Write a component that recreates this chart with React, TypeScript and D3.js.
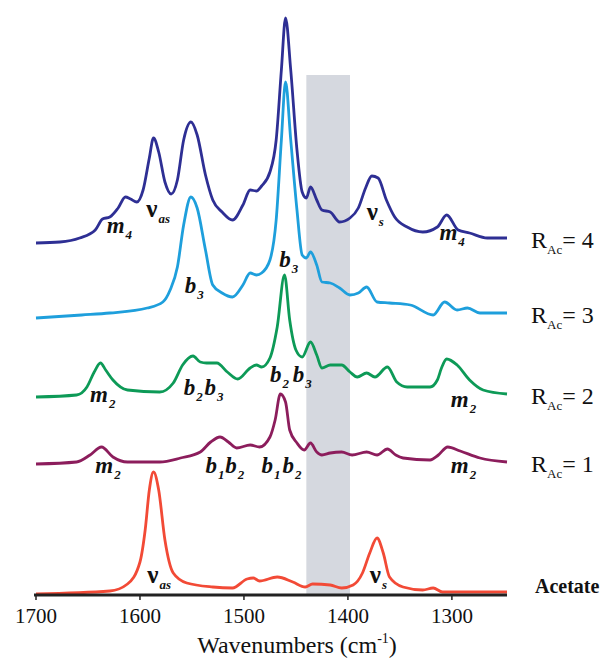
import React from 'react';
import * as d3 from 'd3';

// wavenumber (cm-1), intensity above own baseline (arb. units)
const rac4: [number, number][] = [
  [1700, 0], [1677, 1], [1658, 5], [1643, 13], [1636, 24], [1629, 26], [1621, 35],
  [1614, 46], [1609, 44], [1603, 41], [1597, 53], [1591, 85], [1587, 105], [1582, 91],
  [1576, 61], [1570, 49], [1564, 63], [1558, 103], [1551, 121], [1545, 108], [1537, 68],
  [1530, 43], [1521, 31], [1511, 23], [1501, 38], [1494, 53], [1488, 52], [1483, 57],
  [1475, 71], [1469, 103], [1464, 173], [1460, 225], [1455, 173], [1449, 93], [1444, 51],
  [1440, 45], [1436, 56], [1430, 43], [1425, 33], [1417, 31], [1408, 21], [1398, 25],
  [1390, 35], [1383, 55], [1377, 67], [1371, 65], [1363, 43], [1355, 26], [1343, 16],
  [1328, 11], [1314, 16], [1305, 28], [1294, 13], [1283, 10], [1266, 5], [1247, 5],
];

const rac3: [number, number][] = [
  [1700, 0], [1656, 3], [1629, 5], [1593, 10], [1578, 16], [1571, 28], [1564, 51],
  [1558, 93], [1551, 121], [1545, 110], [1537, 68], [1530, 33], [1521, 25], [1511, 21],
  [1501, 33], [1494, 45], [1488, 43], [1483, 45], [1475, 58], [1469, 98], [1464, 178],
  [1460, 236], [1455, 178], [1449, 108], [1444, 63], [1440, 60], [1436, 66], [1430, 53],
  [1425, 36], [1417, 35], [1408, 30], [1398, 23], [1390, 25], [1382, 31], [1372, 16],
  [1360, 15], [1340, 13], [1318, 3], [1307, 16], [1295, 8], [1285, 10], [1273, 5], [1247, 5],
];

const rac2: [number, number][] = [
  [1700, 0], [1661, 2], [1651, 10], [1644, 25], [1638, 34], [1633, 27], [1626, 17],
  [1612, 7], [1581, 5], [1568, 14], [1559, 32], [1549, 41], [1542, 35], [1536, 34],
  [1526, 34], [1516, 25], [1506, 18], [1494, 29], [1488, 32], [1483, 30], [1475, 39],
  [1468, 70], [1461, 122], [1456, 77], [1450, 47], [1444, 40], [1436, 55], [1430, 42],
  [1425, 29], [1417, 32], [1406, 32], [1398, 25], [1391, 20], [1382, 24], [1374, 20],
  [1362, 30], [1353, 15], [1343, 10], [1321, 10], [1314, 17], [1310, 29], [1305, 38],
  [1295, 32], [1283, 17], [1270, 7], [1247, 3],
];

const rac1: [number, number][] = [
  [1700, 0], [1661, 2], [1648, 9], [1637, 17], [1626, 7], [1612, 2], [1581, 2],
  [1561, 6], [1542, 12], [1532, 22], [1523, 27], [1515, 22], [1507, 16], [1494, 19],
  [1485, 17], [1475, 27], [1470, 44], [1465, 70], [1460, 62], [1456, 34], [1449, 21],
  [1442, 14], [1436, 21], [1430, 12], [1425, 9], [1417, 11], [1406, 12], [1396, 9],
  [1382, 12], [1372, 9], [1362, 15], [1354, 9], [1347, 6], [1321, 4], [1313, 9],
  [1304, 17], [1292, 13], [1273, 6], [1247, 2],
];

const acetate: [number, number][] = [
  [1700, 0], [1629, 3], [1612, 10], [1600, 32], [1595, 64], [1591, 104], [1587, 122],
  [1582, 104], [1576, 54], [1568, 21], [1555, 11], [1530, 7], [1511, 6], [1497, 15],
  [1491, 16], [1485, 13], [1468, 17], [1453, 12], [1441, 7], [1434, 10], [1417, 9],
  [1406, 6], [1395, 9], [1386, 21], [1379, 41], [1372, 56], [1366, 41], [1360, 17],
  [1347, 7], [1328, 4], [1318, 6], [1309, 2], [1247, 2],
];

const spectra = [rac4, rac3, rac2, rac1, acetate];
const offsets = [353, 278, 199, 132, 2];
const colors = ['#2e2f94', '#1e9fdc', '#0d9a57', '#8c1d5c', '#f24a36'];
const seriesNames = ['4', '3', '2', '1', 'Acetate'];

const tickValues = [1700, 1600, 1500, 1400, 1300];
const band = [1440, 1398];

const serif = 'Liberation Serif, Tinos, Times New Roman, serif';

// peak labels: main letter, subscript, wavenumber of left edge, height of baseline
const peakLabels: { t: string; sub: string; w: number; v: number; greek?: boolean }[] = [
  { t: 'm', sub: '4', w: 1632, v: 363 },
  { t: 'ν', sub: 'as', w: 1594, v: 379, greek: true },
  { t: 'b', sub: '3', w: 1557, v: 303 },
  { t: 'b', sub: '3', w: 1466, v: 329 },
  { t: 'ν', sub: 's', w: 1382, v: 376, greek: true },
  { t: 'm', sub: '4', w: 1312, v: 356 },
  { t: 'm', sub: '2', w: 1648, v: 194 },
  { t: 'b', sub: '2', w: 1558, v: 201 },
  { t: 'b', sub: '3', w: 1538, v: 201 },
  { t: 'b', sub: '2', w: 1475, v: 214 },
  { t: 'b', sub: '3', w: 1453, v: 214 },
  { t: 'm', sub: '2', w: 1301, v: 189 },
  { t: 'm', sub: '2', w: 1643, v: 123 },
  { t: 'b', sub: '1', w: 1537, v: 123 },
  { t: 'b', sub: '2', w: 1518, v: 123 },
  { t: 'b', sub: '1', w: 1483, v: 123 },
  { t: 'b', sub: '2', w: 1463, v: 123 },
  { t: 'm', sub: '2', w: 1301, v: 123 },
  { t: 'ν', sub: 'as', w: 1593, v: 13, greek: true },
  { t: 'ν', sub: 's', w: 1379, v: 13, greek: true },
];

const x = d3.scaleLinear().domain([1700, 1247]).range([36, 507]);
const y = d3.scaleLinear().domain([0, 540]).range([596, 56]);

const line = d3
  .line<[number, number]>()
  .x((d) => x(d[0]))
  .y((d) => y(d[1]))
  .curve(d3.curveMonotoneX);

const fmt = d3.format('d');

function App() {
  return (
    <svg
      width={604}
      height={659}
      fontFamily={serif}
      style={{ position: 'absolute', left: 0, top: 0, background: '#fff' }}
    >
      {/* grey band */}
      <rect
        x={x(band[0])}
        y={75}
        width={x(band[1]) - x(band[0])}
        height={y(0) - 75}
        fill="#d5d8df"
      />

      {/* spectra */}
      {spectra.map((s, i) => (
        <path
          key={i}
          d={line(s.map((d) => [d[0], d[1] + offsets[i]] as [number, number])) || ''}
          fill="none"
          stroke={colors[i]}
          strokeWidth={2.8}
          strokeLinejoin="round"
        />
      ))}

      {/* axis */}
      <line x1={x(1700) - 2} x2={x(1247)} y1={y(0) - 1} y2={y(0) - 1} stroke="#222" strokeWidth={3} />
      {tickValues.map((t) => (
        <g key={t} transform={`translate(${x(t)},${y(0)})`}>
          <line y1={0} y2={4} stroke="#222" strokeWidth={1.5} />
          <text y={27} textAnchor="middle" fontSize={21} fill="#111" fontFamily={serif}>
            {fmt(t)}
          </text>
        </g>
      ))}
      <text x={297} y={653} textAnchor="middle" fontSize={24} fill="#111" fontFamily={serif}>
        <tspan>Wavenumbers (cm</tspan>
        <tspan fontSize={14} dy={-10}>-1</tspan>
        <tspan dy={10}>)</tspan>
      </text>

      {/* peak labels */}
      {peakLabels.map((p, i) => (
        <text key={i} x={x(p.w)} y={y(p.v)} fontWeight="bold" fill="#111" fontFamily={serif}>
          <tspan fontSize={p.greek ? 25 : 23} fontStyle={p.greek ? 'normal' : 'italic'}>
            {p.t}
          </tspan>
          <tspan fontSize={13} fontStyle="italic" dx={1} dy={6}>
            {p.sub}
          </tspan>
        </text>
      ))}

      {/* series labels */}
      {seriesNames.map((n, i) => {
        const base = spectra[i][spectra[i].length - 1][1] + offsets[i];
        if (n === 'Acetate') {
          return (
            <text key={n} x={535} y={593} fontSize={20} fontWeight="bold" fill="#111" fontFamily={serif}>
              Acetate
            </text>
          );
        }
        return (
          <text key={n} x={531} y={y(base) + 10} fontSize={24} fill="#111" fontFamily={serif}>
            <tspan>R</tspan>
            <tspan fontSize={13} dy={6}>Ac</tspan>
            <tspan dy={-6}>{'= ' + n}</tspan>
          </text>
        );
      })}
    </svg>
  );
}

export default App;
